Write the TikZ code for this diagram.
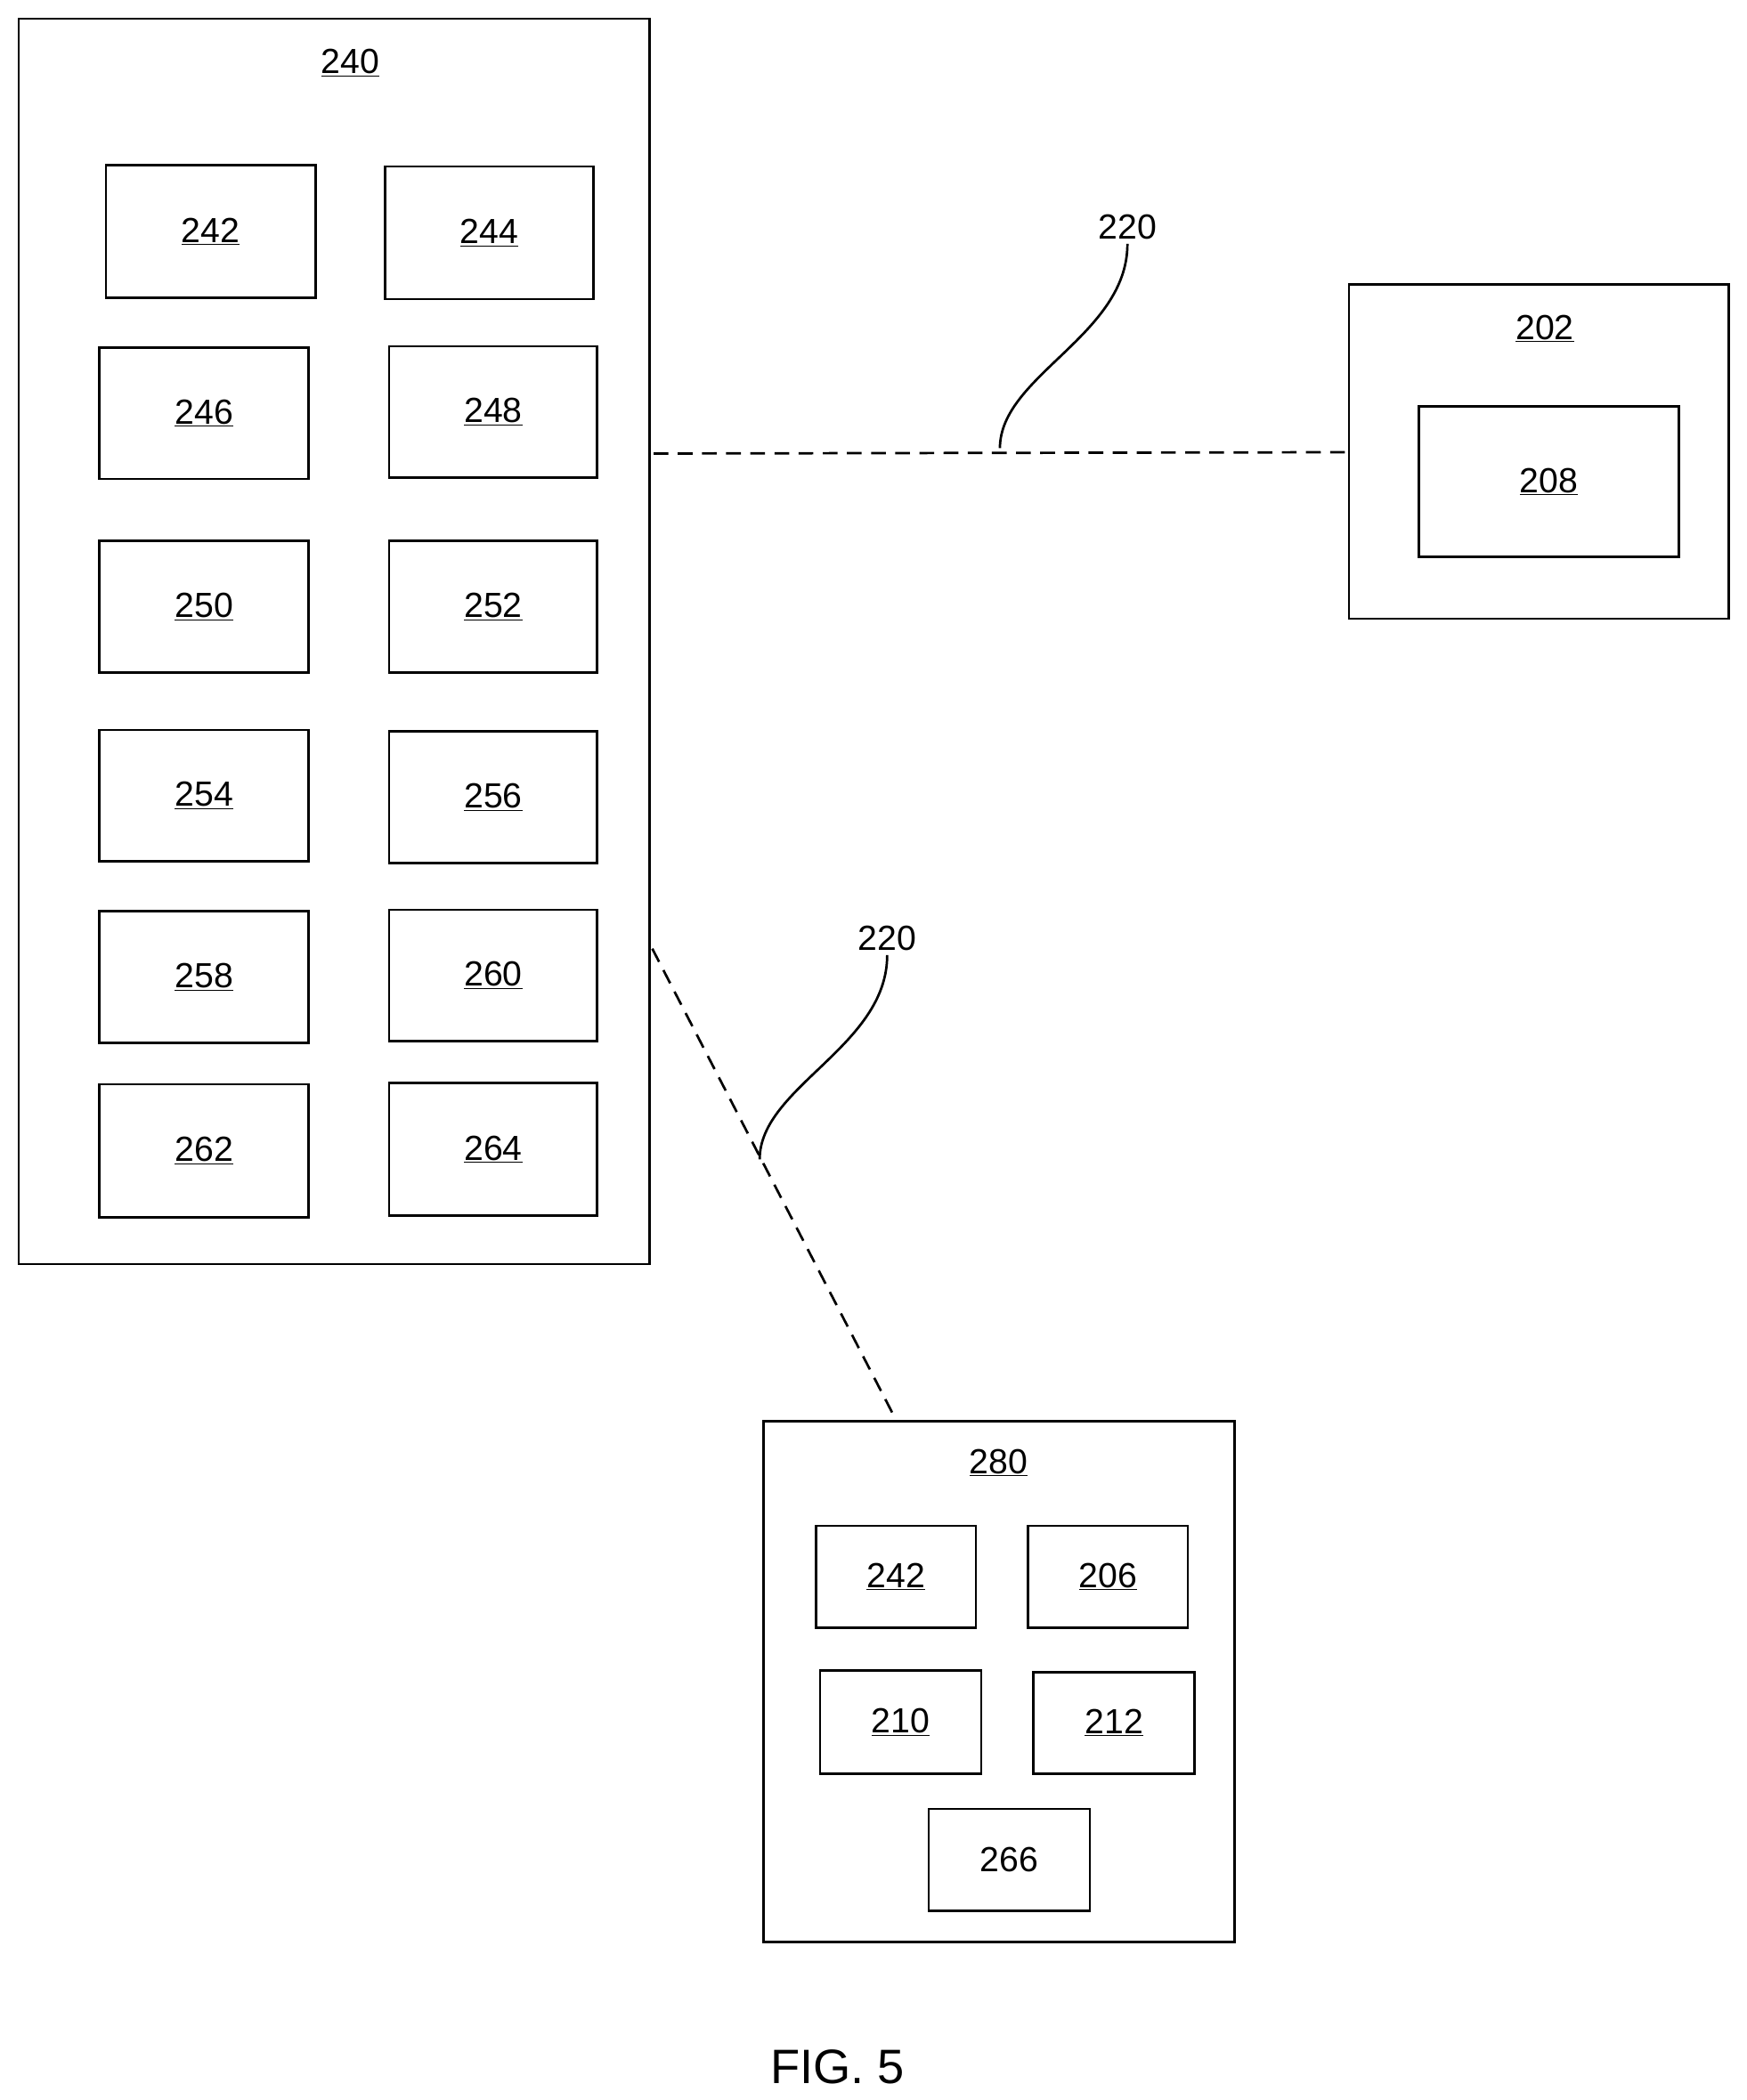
\documentclass[tikz,border=0pt]{standalone}
\usepackage{fontspec}
\setmainfont{Liberation Sans}
\begin{document}
\begin{tikzpicture}[x=1pt,y=-1pt,
  box/.style={draw,line width=1.8pt},
  lbl/.style={font=\fontsize{26}{30}\selectfont},
  dashln/.style={line width=1.8pt,dash pattern=on 11pt off 7pt},
  sq/.style={line width=1.8pt}]
\useasboundingbox (0,0) rectangle (1301,1565);
\newcommand{\bx}[5]{\draw[box] (#1,#2) rectangle (#3,#4); \node[lbl] at ({(#1+#3)/2},{(#2+#4)/2}) {\underline{#5}};}
\draw[box] (14,14) rectangle (484,942);
\node[lbl] (n240) at (261,47) {\underline{240}};
\bx{79}{123}{235}{222}{242}
\bx{287}{124}{442}{223}{244}
\bx{74}{259}{230}{357}{246}
\bx{290}{258}{445}{356}{248}
\bx{74}{403}{230}{501}{250}
\bx{290}{403}{445}{501}{252}
\bx{74}{544}{230}{642}{254}
\bx{290}{545}{445}{643}{256}
\bx{74}{679}{230}{777}{258}
\bx{290}{678}{445}{776}{260}
\bx{74}{808}{230}{907}{262}
\bx{290}{807}{445}{906}{264}
\draw[box] (1005,212) rectangle (1288,461);
\node[lbl] at (1151,245) {\underline{202}};
\bx{1057}{303}{1251}{415}{208}
\draw[box] (569,1059) rectangle (920,1447);
\node[lbl] at (744,1090) {\underline{280}};
\bx{608}{1137}{727}{1213}{242}
\bx{766}{1137}{885}{1213}{206}
\bx{611}{1245}{731}{1322}{210}
\bx{770}{1246}{890}{1322}{212}
\draw[box] (692,1348) rectangle (812,1424);
\node[lbl] at (752,1386) {266};
\coordinate (a1) at (487,338); \coordinate (a2) at (1005,337);
\draw[dashln] (a1) -- (a2);
\coordinate (b1) at (486,707); \coordinate (b2) at (668,1059);
\draw[dashln] (b1) -- (b2);
\node[lbl] (l1) at (840,169) {220};
\node[lbl] (l2) at (661,699) {220};
\draw[sq] (745,334) .. controls (745,280) and (840,250) .. (l1.south);
\draw[sq] (566,864) .. controls (566,810) and (661,780) .. (l2.south);
\node[font=\fontsize{36}{40}\selectfont] at (624,1540) {FIG. 5};
\end{tikzpicture}
\end{document}
